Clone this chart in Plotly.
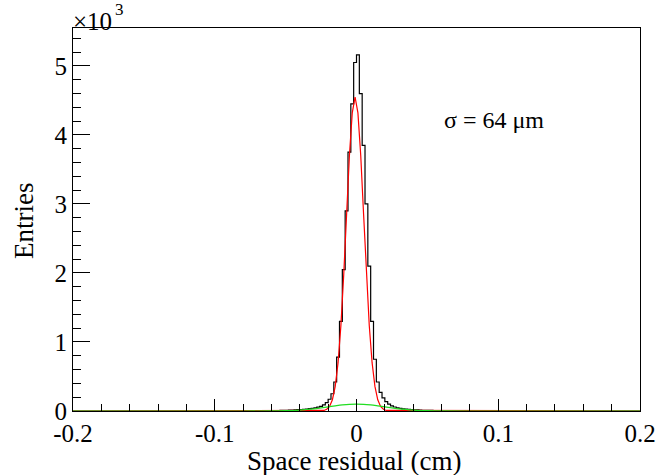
import numpy as np
import plotly.graph_objects as go

# ---- data (y in units of 10^3 entries) ----
bin_width = 0.002
bin_centers_left = [-0.069, -0.067, -0.065, -0.063, -0.061, -0.059, -0.057, -0.055, -0.053, -0.051,
                    -0.049, -0.047, -0.045, -0.043, -0.041, -0.039, -0.037, -0.035, -0.033, -0.031,
                    -0.029, -0.027, -0.025, -0.023, -0.021, -0.019, -0.017, -0.015, -0.013, -0.011,
                    -0.009, -0.007, -0.005, -0.003, -0.001]
counts_left = [0.002, 0.003, 0.003, 0.004, 0.004, 0.005, 0.006, 0.007, 0.008, 0.009,
               0.011, 0.012, 0.014, 0.016, 0.019, 0.021, 0.024, 0.028, 0.033, 0.038,
               0.045, 0.055, 0.068, 0.09, 0.12, 0.17, 0.25, 0.42, 0.78, 1.3,
               2.05, 2.9, 3.75, 4.45, 5.05]
bin_centers_right = [0.001, 0.003, 0.005, 0.007, 0.009, 0.011, 0.013, 0.015, 0.017, 0.019,
                     0.021, 0.023, 0.025, 0.027, 0.029, 0.031, 0.033, 0.035, 0.037, 0.039,
                     0.041, 0.043, 0.045, 0.047, 0.049, 0.051, 0.053, 0.055, 0.057, 0.059,
                     0.061, 0.063, 0.065, 0.067, 0.069]
counts_right = [5.16, 4.6, 3.85, 3.0, 2.1, 1.3, 0.75, 0.42, 0.27, 0.19,
                0.135, 0.1, 0.075, 0.058, 0.046, 0.038, 0.032, 0.027, 0.023, 0.02,
                0.017, 0.015, 0.013, 0.011, 0.01, 0.009, 0.008, 0.007, 0.006, 0.005,
                0.004, 0.004, 0.003, 0.003, 0.002]

core_fit_x = [-0.2, -0.023, -0.021, -0.019, -0.017, -0.015, -0.013, -0.011, -0.009, -0.007,
              -0.005, -0.003, -0.001, 0.001, 0.003, 0.005, 0.007, 0.009, 0.011, 0.013,
              0.015, 0.017, 0.019, 0.021, 0.2]
core_fit_y = [0, 0.008, 0.025, 0.067, 0.163, 0.356, 0.70, 1.24, 1.98, 2.85,
              3.70, 4.32, 4.55, 4.32, 3.70, 2.85, 1.98, 1.24, 0.70, 0.356,
              0.163, 0.067, 0.025, 0.008, 0]

bkg_fit_x = [-0.2, -0.08, -0.06, -0.05, -0.04, -0.035, -0.03, -0.025, -0.02, -0.015,
             -0.01, -0.005, 0, 0.005, 0.01, 0.015, 0.02, 0.025, 0.03, 0.035,
             0.04, 0.05, 0.06, 0.08, 0.2]
bkg_fit_y = [0, 0, 0.001, 0.004, 0.0135, 0.022, 0.032, 0.046, 0.061, 0.075,
             0.088, 0.097, 0.1, 0.097, 0.088, 0.075, 0.061, 0.046, 0.032, 0.022,
             0.0135, 0.004, 0.001, 0, 0]

x_ticks = [-0.2, -0.1, 0, 0.1, 0.2]
x_tick_labels = ["-0.2", "-0.1", "0", "0.1", "0.2"]
y_ticks = [0, 1, 2, 3, 4, 5]
y_tick_labels = ["0", "1", "2", "3", "4", "5"]

# ---- figure ----
hx = [-0.2, bin_centers_left[0] - bin_width] + bin_centers_left + bin_centers_right + \
     [bin_centers_right[-1] + bin_width, 0.2]
hy = [0, 0] + counts_left + counts_right + [0, 0]

FONT = "Liberation Serif, Times New Roman, serif"
fig = go.Figure()
fig.add_trace(go.Scatter(x=hx, y=hy, mode="lines", line=dict(color="black", width=1.2, shape="hvh"),
                         hoverinfo="skip"))
fig.add_trace(go.Scatter(x=core_fit_x, y=core_fit_y, mode="lines",
                         line=dict(color="#ff0000", width=1.2), hoverinfo="skip"))
fig.add_trace(go.Scatter(x=bkg_fit_x, y=bkg_fit_y, mode="lines",
                         line=dict(color="#22dd22", width=1.2, shape="spline"), hoverinfo="skip"))

fig.update_layout(
    width=662, height=475,
    margin=dict(l=73, r=22, t=28, b=64, autoexpand=False),
    paper_bgcolor="white", plot_bgcolor="white",
    showlegend=False,
    font=dict(family=FONT, size=25, color="black"),
)
fig.update_xaxes(
    range=[-0.2, 0.2], showgrid=False, zeroline=False, automargin=False,
    showline=True, linecolor="black", linewidth=1, mirror=True,
    ticks="inside", ticklen=12, tickcolor="black", tickwidth=1,
    tickvals=x_ticks, ticktext=x_tick_labels,
    tickfont=dict(family=FONT, size=25),
    minor=dict(dtick=0.02, tick0=0, ticks="inside", ticklen=7, tickcolor="black", showgrid=False),
)
fig.update_yaxes(
    range=[0, 5.55], showgrid=False, zeroline=False, automargin=False,
    showline=True, linecolor="black", linewidth=1, mirror=True,
    ticks="inside", ticklen=17, tickcolor="black", tickwidth=1,
    tickvals=y_ticks, ticktext=y_tick_labels,
    tickfont=dict(family=FONT, size=25),
    minor=dict(dtick=0.2, tick0=0, ticks="inside", ticklen=8, tickcolor="black", showgrid=False),
)
fig.add_annotation(xref="paper", yref="paper", x=0.4956, y=-0.13, xanchor="center", yanchor="middle",
                   text="Space residual (cm)", showarrow=False, font=dict(family=FONT, size=27))
fig.add_annotation(xref="paper", yref="paper", x=-0.0864, y=0.496, xanchor="center", yanchor="middle",
                   text="Entries", textangle=-90, showarrow=False, font=dict(family=FONT, size=27))
fig.add_annotation(xref="paper", yref="paper", x=-0.004, y=1.018, xanchor="left", yanchor="middle",
                   text="×10", showarrow=False, font=dict(family=FONT, size=25))
fig.add_annotation(xref="paper", yref="paper", x=0.0705, y=1.049, xanchor="left", yanchor="middle",
                   text="3", showarrow=False, font=dict(family=FONT, size=17))
fig.add_annotation(xref="x", yref="y", x=0.0605, y=4.22, xanchor="left", yanchor="middle",
                   text="σ = 64 μm", showarrow=False, font=dict(family=FONT, size=24))

fig.write_html("out.html", config={"displayModeBar": False},
               post_script="document.body.style.margin='0';")
